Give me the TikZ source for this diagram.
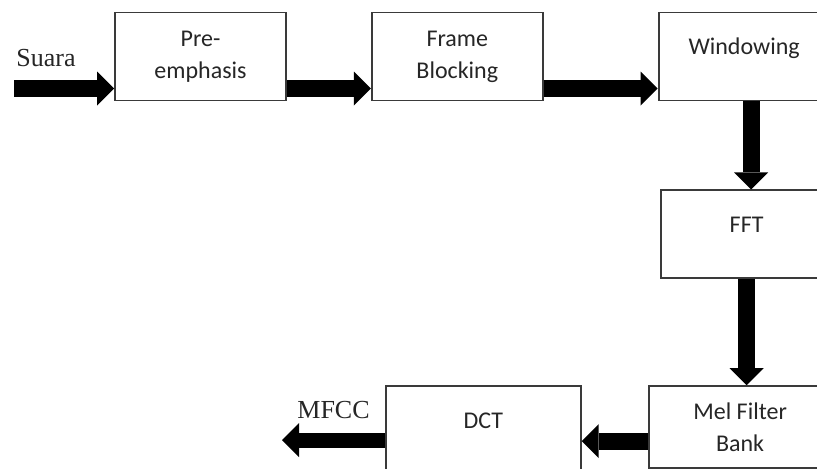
\documentclass[tikz,border=0pt]{standalone}
\usepackage{fontspec}
\setmainfont{Carlito}
\newfontfamily\serifl{Liberation Serif}
\usetikzlibrary{positioning,arrows.meta}
\definecolor{boxgrey}{HTML}{3A3A3A}
\definecolor{textgrey}{HTML}{262626}
\tikzset{
  box/.style={
    draw=boxgrey, fill=white, line width=0.9pt, align=center,
    minimum width=85.5pt, minimum height=44pt, inner sep=2pt,
    font=\fontsize{12}{16}\selectfont, text=textgrey,
  },
  oneline/.style={text height=8pt, text depth=10pt},
  fat/.style={line width=8.5pt, draw=black,
    -{Triangle[length=8.5pt, width=17pt, line width=0pt]}},
  lbl/.style={font=\serifl\fontsize{13}{15}\selectfont, text=textgrey, inner sep=0pt},
}

\begin{document}
\begin{tikzpicture}[x=0.5pt, y=-0.5pt]
\clip (0,0) rectangle (817,468);

% top row
\node[box] (pre) at (200.5,56.5) {Pre-\\emphasis};
\node[box, right=42pt of pre] (frame) {Frame\\Blocking};
\node[box, oneline, right=57pt of frame] (win) {Windowing};

% right column
\node[box, oneline, below=44pt of win, xshift=1.25pt] (fft) {FFT};
\node[box, below=53pt of fft, xshift=-3.25pt, minimum width=91.5pt, minimum height=41pt] (mel) {Mel Filter\\Bank};

% bottom row
\node[box, oneline, left=33pt of mel.north west, anchor=north east,
  minimum width=97.5pt, minimum height=44.5pt] (dct) {DCT};

% in / out
\coordinate (in) at (14,88.5);
\coordinate (out) at (282,440);
\node[lbl, anchor=base west] (suara) at (16,66) {Suara};
\node[lbl, anchor=base west] (mfcc) at (297,418) {MFCC};

% arrows
\draw[fat] (in) -- (in -| pre.west);
\draw[fat] (pre.east |- in) -- (frame.west |- in);
\draw[fat] (frame.east |- in) -- (win.west |- in);
\draw[fat] ([xshift=3.5pt]win.south) -- ([xshift=3.5pt]win.south |- fft.north);
\draw[fat] (fft.south) -- (fft.south |- mel.north);
\draw[fat] ([yshift=-7pt]mel.west) -- ([yshift=-7pt]mel.west -| dct.east);
\draw[fat, line width=7.5pt] (out -| dct.west) -- (out);

\end{tikzpicture}
\end{document}
